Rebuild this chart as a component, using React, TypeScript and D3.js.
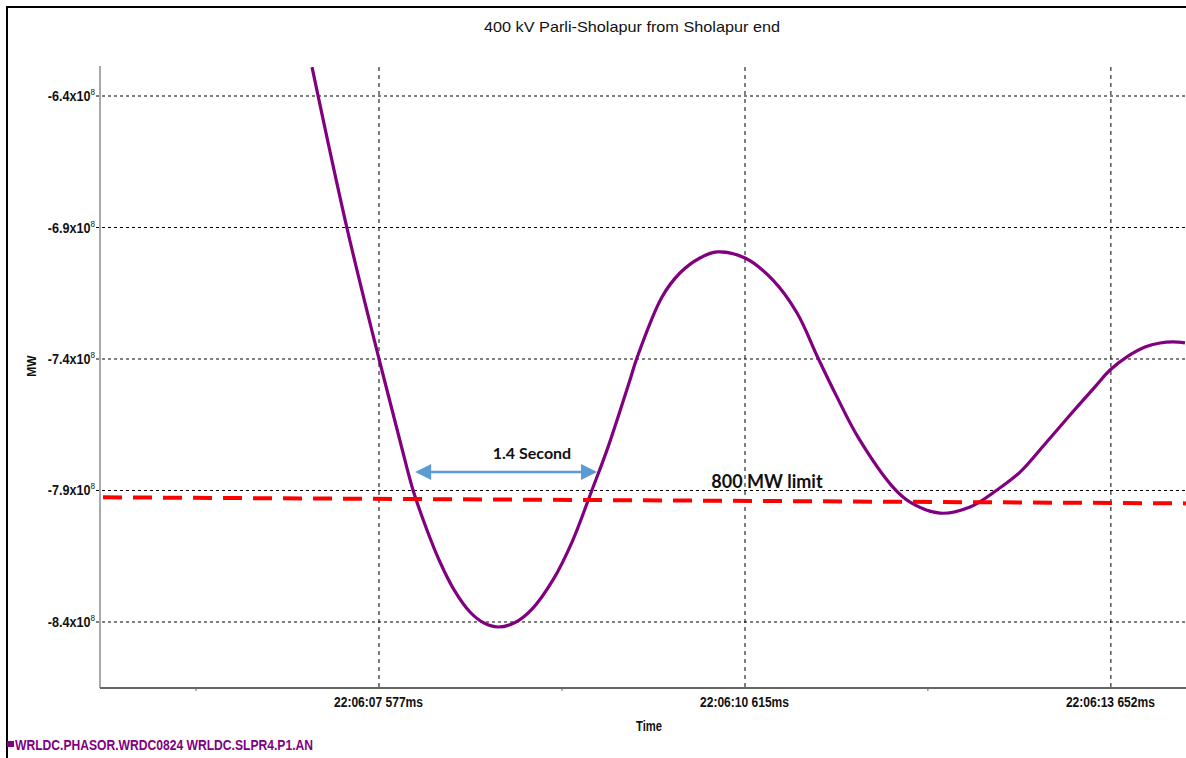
import React from "react";
import * as d3 from "d3";

// time offsets (ms) relative to 22:06:07 577ms, values in units of 10^8 W
const timeOffsetsMs = [-556, -266, 0, 183, 282, 398, 506, 623, 755, 872, 988, 1129, 1270, 1444, 1602, 1768, 1901, 2083, 2141, 2349, 2498, 2664, 2806, 3038, 3270, 3470, 3644, 3802, 3976, 4266, 4408, 4657, 4906, 5130, 5321, 5528, 5736, 5943, 6068, 6217, 6358, 6483, 6591, 6690];
const powerValues = [-6.29, -6.902, -7.4, -7.727, -7.898, -8.05, -8.172, -8.278, -8.362, -8.404, -8.419, -8.402, -8.351, -8.24, -8.096, -7.898, -7.735, -7.48, -7.396, -7.164, -7.073, -7.016, -6.993, -7.016, -7.1, -7.225, -7.396, -7.545, -7.697, -7.887, -7.944, -7.986, -7.963, -7.898, -7.83, -7.723, -7.613, -7.506, -7.442, -7.389, -7.354, -7.339, -7.335, -7.339];

const limitTimes = [-2291, 6698];
const limitValues = [-7.926, -7.949];

const xTickOffsets = [0, 3038, 6075];
const xTickLabels = ["22:06:07 577ms", "22:06:10 615ms", "22:06:13 652ms"];
const xMinorOffsets = [-1519, 1519, 4556];
const yTickValues = [-6.4, -6.9, -7.4, -7.9, -8.4];
const yTickLabels = ["-6.4x10", "-6.9x10", "-7.4x10", "-7.9x10", "-8.4x10"];
const yTickExponent = "8";

const arrowTimes = [300, 1810];
const arrowValue = -7.83;

const title = "400 kV Parli-Sholapur from Sholapur end";
const seriesName = "WRLDC.PHASOR.WRDC0824 WRLDC.SLPR4.P1.AN";

const W = 1186, H = 758;
const left = 100, right = 1186, top = 67, bottom = 688;

export default function App() {
  const x = d3.scaleLinear().domain([-2316, 6698.5]).range([left, right]);
  const y = d3.scaleLinear().domain([-8.651, -6.2897]).range([bottom, top]);
  const pts: [number, number][] = timeOffsetsMs.map((t, i) => [x(t), y(powerValues[i])]);
  const line = d3.line<[number, number]>().x(d => d[0]).y(d => d[1]).curve(d3.curveCatmullRom.alpha(0.5));
  const narrow = "'Liberation Sans', Arial, sans-serif";
  const ax1 = x(arrowTimes[0]), ax2 = x(arrowTimes[1]), ay = y(arrowValue);
  return (
    <svg width={W} height={H} style={{ position: "absolute", left: 0, top: 0, background: "#fff" }}>
      <defs>
        <clipPath id="plot"><rect x={left} y={top} width={right - left} height={bottom - top} /></clipPath>
      </defs>
      <rect x={0} y={0} width={W} height={H} fill="#fff" />
      <rect x={7} y={7} width={W + 10} height={H + 10} fill="none" stroke="#000" strokeWidth={2} />
      <text x={484} y={32} textLength={296} lengthAdjust="spacingAndGlyphs" fontFamily={narrow} fontSize={15} fill="#111">{title}</text>
      {/* grid */}
      {yTickValues.map((v, i) => (
        <line key={"gy" + i} x1={left - 4} x2={right} y1={y(v)} y2={y(v)} stroke="#000" strokeWidth={1} strokeDasharray="3,3" />
      ))}
      {xTickOffsets.map((t, i) => (
        <line key={"gx" + i} x1={x(t)} x2={x(t)} y1={top} y2={bottom + 3} stroke="#000" strokeWidth={1} strokeDasharray="4,4" />
      ))}
      {/* axes */}
      <line x1={left} x2={left} y1={top - 1} y2={bottom} stroke="#555" strokeWidth={1} />
      <line x1={left} x2={right} y1={bottom} y2={bottom} stroke="#666" strokeWidth={2} />
      {xMinorOffsets.map((t, i) => (
        <line key={"mx" + i} x1={x(t)} x2={x(t)} y1={bottom} y2={bottom + 3} stroke="#666" strokeWidth={1} />
      ))}
      {yTickValues.map((v, i) => (
        <text key={"ty" + i} transform={`translate(95,${y(v) + 5}) scale(0.9,1)`} textAnchor="end" fontFamily={narrow} fontWeight="bold" fontSize={14} fill="#111">
          <tspan>{yTickLabels[i]}</tspan>
          <tspan dy={-6} fontSize={9} fontWeight="normal">{yTickExponent}</tspan>
        </text>
      ))}
      {xTickOffsets.map((t, i) => (
        <text key={"tx" + i} x={x(t) - 45} y={707} textLength={89} lengthAdjust="spacingAndGlyphs" fontFamily={narrow} fontWeight="bold" fontSize={14} fill="#111">
          {xTickLabels[i]}
        </text>
      ))}
      <text x={636} y={731} textLength={26} lengthAdjust="spacingAndGlyphs" fontFamily={narrow} fontWeight="bold" fontSize={14} fill="#111">Time</text>
      <text transform="translate(36,366) rotate(-90)" textAnchor="middle" fontFamily={narrow} fontWeight="bold" fontSize={12} fill="#111">MW</text>
      {/* series */}
      <g clipPath="url(#plot)">
        <path d={line(pts) || ""} fill="none" stroke="#800080" strokeWidth={3.2} strokeLinejoin="round" />
      </g>
      {/* limit line */}
      <line x1={x(limitTimes[0])} x2={x(limitTimes[1])} y1={y(limitValues[0])} y2={y(limitValues[1])} stroke="#ff0000" strokeWidth={4} strokeDasharray="19,11" />
      {/* arrow */}
      <line x1={ax1 + 14} x2={ax2 - 14} y1={ay} y2={ay} stroke="#5b9bd5" strokeWidth={2.5} />
      <path d={`M${ax1},${ay} L${ax1 + 16},${ay - 8} L${ax1 + 16},${ay + 8} Z`} fill="#5b9bd5" />
      <path d={`M${ax2},${ay} L${ax2 - 16},${ay - 8} L${ax2 - 16},${ay + 8} Z`} fill="#5b9bd5" />
      <text x={532} y={459} textAnchor="middle" fontFamily="Lato, 'Open Sans', sans-serif" fontWeight="bold" fontSize={16} fill="#111">1.4 Second</text>
      <text x={767} y={488} textAnchor="middle" fontFamily="Lato, 'Open Sans', sans-serif" fontWeight="bold" fontSize={18} fill="#111">800 MW limit</text>
      {/* legend */}
      <rect x={7} y={741} width={7} height={6} fill="#800080" />
      <text x={15} y={750} textLength={298} lengthAdjust="spacingAndGlyphs" fontFamily={narrow} fontWeight="bold" fontSize={14} fill="#800080">{seriesName}</text>
    </svg>
  );
}
